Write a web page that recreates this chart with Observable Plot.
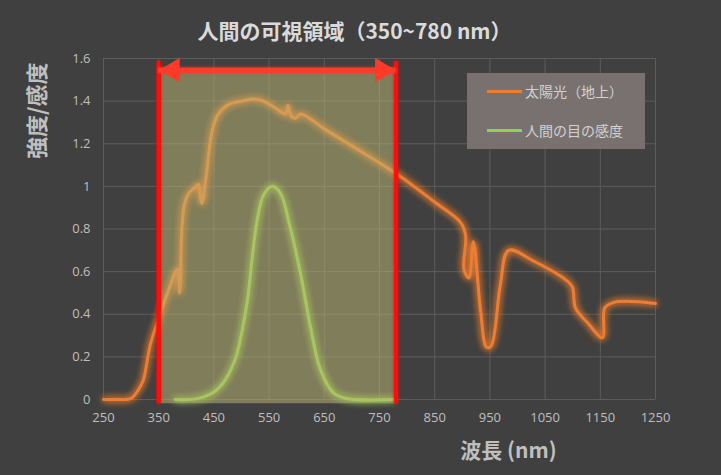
<!DOCTYPE html>
<html><head><meta charset="utf-8">
<script src="https://cdn.jsdelivr.net/npm/d3@7"></script>
<script src="https://cdn.jsdelivr.net/npm/@observablehq/plot@0.6"></script>
<style>
html,body{margin:0;padding:0;background:#404040;}
body{width:721px;height:475px;overflow:hidden;position:relative;font-family:"Noto Sans CJK JP","Noto Sans",sans-serif;}
#title{position:absolute;top:19px;left:0;width:709px;text-align:center;font-size:21px;line-height:23px;font-weight:bold;color:#dadada;}
#chart{position:absolute;top:48px;left:0;}
#legend{position:absolute;left:467px;top:73px;width:178px;height:76px;background:#79716f;}
.item{position:absolute;left:20px;height:18px;display:flex;align-items:center;font-size:14px;color:#d2d2d2;white-space:nowrap;}
.sw{width:35px;height:3px;margin-right:3px;}
</style></head>
<body>
<div id="title">人間の可視領域（350~780 nm）</div>
<div id="chart"></div>
<div id="legend"></div>
<script>
// ---- data ----
const seriesNames = ["太陽光（地上）", "人間の目の感度"];
const seriesColors = ["#ed7d31", "#92d050"];
const sunX = [250, 280, 300, 313, 322, 335, 350, 366, 384, 388, 392, 397, 405, 418, 422, 428, 436, 446, 456, 474, 500, 522, 540, 560, 580, 584, 590, 598, 607, 650, 700, 780, 848, 897, 906, 903, 912, 920, 933, 944, 952, 969, 984, 1029, 1083, 1099, 1105, 1127, 1154, 1158, 1174, 1210, 1250];
const sunY = [0, 0, 0.005, 0.045, 0.09, 0.26, 0.38, 0.50, 0.61, 0.50, 0.80, 0.92, 0.97, 1.00, 1.01, 0.92, 1.05, 1.25, 1.33, 1.38, 1.40, 1.41, 1.40, 1.37, 1.34, 1.38, 1.33, 1.32, 1.34, 1.27, 1.19, 1.06, 0.93, 0.83, 0.77, 0.61, 0.57, 0.74, 0.42, 0.245, 0.25, 0.54, 0.70, 0.65, 0.57, 0.53, 0.43, 0.36, 0.29, 0.43, 0.455, 0.46, 0.45];
const eyeX = [380, 420, 450, 470, 490, 500, 511, 520, 529, 540, 555, 570, 588, 607, 625, 643, 667, 690, 775];
const eyeY = [0, 0.004, 0.035, 0.09, 0.2, 0.31, 0.47, 0.68, 0.85, 0.96, 1.0, 0.97, 0.81, 0.59, 0.34, 0.14, 0.03, 0.005, 0];
const xTicks = [250, 350, 450, 550, 650, 750, 850, 950, 1050, 1150, 1250];
const yTicks = [0, 0.2, 0.4, 0.6, 0.8, 1, 1.2, 1.4, 1.6];
const visibleRange = [350, 780];
const xLabel = "波長 (nm)";
const yLabel = "強度/感度";

const sun = sunX.map((x, i) => ({x, y: sunY[i]}));
const eye = eyeX.map((x, i) => ({x, y: eyeY[i]}));

const plot = Plot.plot({
  width: 721, height: 427,
  marginTop: 10, marginBottom: 76, marginLeft: 103, marginRight: 66,
  style: {background: "transparent", color: "#bfbfbf", fontSize: "13px", fontFamily: "'Open Sans','Noto Sans',sans-serif"},
  x: {domain: [250, 1250], ticks: xTicks, tickSize: 0, tickPadding: 13, label: null, tickFormat: d => String(d)},
  y: {domain: [0, 1.6], ticks: yTicks, tickSize: 0, tickPadding: 13, label: null, tickFormat: d => String(d)},
  marks: [
    Plot.gridX(xTicks, {stroke: "#5c5c5c", strokeOpacity: 1}),
    Plot.gridY(yTicks, {stroke: "#5c5c5c", strokeOpacity: 1}),
    Plot.line(sun, {x: "x", y: "y", stroke: seriesColors[0], strokeWidth: 3, curve: "catmull-rom"}),
    Plot.line(eye, {x: "x", y: "y", stroke: seriesColors[1], strokeWidth: 3, curve: "catmull-rom"}),
    Plot.rect([0], {x1: visibleRange[0], x2: visibleRange[1], y1: -0.02, y2: 1.54, fill: "#bfba74", fillOpacity: 0.5}),
    Plot.ruleX(visibleRange, {y1: -0.02, y2: 1.585, stroke: "#ff0a0a", strokeWidth: 4}),
    Plot.ruleY([1.545], {x1: visibleRange[0], x2: visibleRange[1], stroke: "#ff3a28", strokeWidth: 5}),
    Plot.dot([visibleRange[0]], {x: d => d, y: 1.545, symbol: "triangle", r: 9, rotate: -90, dx: 14, fill: "#ff3a28", stroke: "none"}),
    Plot.dot([visibleRange[1]], {x: d => d, y: 1.545, symbol: "triangle", r: 9, rotate: 90, dx: -14, fill: "#ff3a28", stroke: "none"}),
    Plot.text([xLabel], {text: d => d, frameAnchor: "bottom", dx: 129, dy: 52, fontSize: 21, fontWeight: "bold", fill: "#bfbfbf", fontFamily: "'Noto Sans CJK JP',sans-serif", lineAnchor: "middle"}),
    Plot.text([yLabel], {text: d => d, frameAnchor: "top-left", rotate: -90, textAnchor: "end", dx: -66, dy: 4, fontSize: 22, fontWeight: "bold", fill: "#bfbfbf", fontFamily: "'Noto Sans CJK JP',sans-serif", lineAnchor: "middle"})
  ]
});

// glow filter
const svg = d3.select(plot);
const defs = svg.insert("defs", ":first-child");
function glow(id, sd, n) {
  const f = defs.append("filter").attr("id", id).attr("filterUnits", "userSpaceOnUse")
    .attr("x", -50).attr("y", -50).attr("width", 821).attr("height", 527);
  f.append("feGaussianBlur").attr("in", "SourceGraphic").attr("stdDeviation", sd).attr("result", "b");
  const m = f.append("feMerge");
  for (let k = 0; k < n; k++) m.append("feMergeNode").attr("in", "b");
  m.append("feMergeNode").attr("in", "SourceGraphic");
}
glow("glow", 3.5, 2);
glow("glow2", 1.5, 1);
svg.selectAll('g[aria-label="line"]').attr("filter", "url(#glow)");
svg.selectAll('g[aria-label="rule"]').attr("filter", "url(#glow2)");
document.getElementById("chart").appendChild(plot);

// legend
const lg = document.getElementById("legend");
seriesNames.forEach((name, i) => {
  const it = document.createElement("div");
  it.className = "item";
  it.style.top = (9 + i * 39) + "px";
  const sw = document.createElement("div");
  sw.className = "sw";
  sw.style.background = seriesColors[i];
  const tx = document.createElement("span");
  tx.textContent = name;
  it.appendChild(sw); it.appendChild(tx);
  lg.appendChild(it);
});
</script>
</body></html>
